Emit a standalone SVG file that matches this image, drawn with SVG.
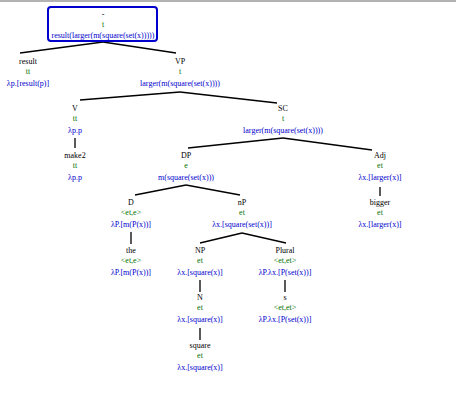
<svg xmlns="http://www.w3.org/2000/svg" width="456" height="400" viewBox="0 0 456 400">
<style>
text{font-family:"Liberation Serif","Times New Roman",serif;font-size:8px;text-anchor:middle}
.l{fill:#000}
.t{fill:#007000}
.s{fill:#0000cc}
.e{stroke:#000;stroke-width:1.3;fill:none}
</style>
<rect width="456" height="400" fill="#fff"/>
<line x1="0" y1="1" x2="456" y2="1" stroke="#999" stroke-width="1.5"/>
<g id="connectors">
<line class="e" x1="103" y1="42" x2="20" y2="53"/>
<line class="e" x1="103" y1="42" x2="176" y2="53"/>
<line class="e" x1="180" y1="92" x2="80" y2="100"/>
<line class="e" x1="180" y1="92" x2="277" y2="103"/>
<line class="e" x1="75" y1="138" x2="75" y2="148"/>
<line class="e" x1="283" y1="138" x2="188" y2="148"/>
<line class="e" x1="283" y1="138" x2="372" y2="150"/>
<line class="e" x1="380" y1="187" x2="380" y2="196"/>
<line class="e" x1="186" y1="185" x2="135" y2="195"/>
<line class="e" x1="186" y1="185" x2="240" y2="195"/>
<line class="e" x1="131" y1="232" x2="131" y2="244"/>
<line class="e" x1="242" y1="233" x2="200" y2="243"/>
<line class="e" x1="242" y1="233" x2="286" y2="243"/>
<line class="e" x1="200" y1="280" x2="200" y2="292"/>
<line class="e" x1="200" y1="328" x2="200" y2="340"/>
<line class="e" x1="285" y1="280" x2="285" y2="292"/>
</g>
<g id="root">
<rect x="48" y="7" width="109" height="34" rx="3" fill="none" stroke="#0000cc" stroke-width="2"/>
<text class="l" x="103" y="17">-</text>
<text class="t" x="103" y="27">t</text>
<text class="s" x="103" y="38">result(larger(m(square(set(x)))))</text>
</g>
<g id="result">
<text class="l" x="28" y="64">result</text>
<text class="t" x="28" y="74">tt</text>
<text class="s" x="28" y="86">λp.[result(p)]</text>
</g>
<g id="VP">
<text class="l" x="180" y="64">VP</text>
<text class="t" x="180" y="74">t</text>
<text class="s" x="180" y="86">larger(m(square(set(x))))</text>
</g>
<g id="V">
<text class="l" x="75" y="111">V</text>
<text class="t" x="75" y="121">tt</text>
<text class="s" x="75" y="133">λp.p</text>
</g>
<g id="make2">
<text class="l" x="75" y="158">make2</text>
<text class="t" x="75" y="168">tt</text>
<text class="s" x="75" y="180">λp.p</text>
</g>
<g id="SC">
<text class="l" x="283" y="111">SC</text>
<text class="t" x="283" y="121">t</text>
<text class="s" x="283" y="133">larger(m(square(set(x))))</text>
</g>
<g id="DP">
<text class="l" x="186" y="158">DP</text>
<text class="t" x="186" y="168">e</text>
<text class="s" x="186" y="180">m(square(set(x)))</text>
</g>
<g id="Adj">
<text class="l" x="380" y="158">Adj</text>
<text class="t" x="380" y="168">et</text>
<text class="s" x="380" y="180">λx.[larger(x)]</text>
</g>
<g id="bigger">
<text class="l" x="380" y="205">bigger</text>
<text class="t" x="380" y="215">et</text>
<text class="s" x="380" y="227">λx.[larger(x)]</text>
</g>
<g id="D">
<text class="l" x="131" y="205">D</text>
<text class="t" x="131" y="215">&lt;et,e&gt;</text>
<text class="s" x="131" y="227">λP.[m(P(x))]</text>
</g>
<g id="the">
<text class="l" x="131" y="253">the</text>
<text class="t" x="131" y="263">&lt;et,e&gt;</text>
<text class="s" x="131" y="275">λP.[m(P(x))]</text>
</g>
<g id="nP">
<text class="l" x="242" y="205">nP</text>
<text class="t" x="242" y="215">et</text>
<text class="s" x="242" y="227">λx.[square(set(x))]</text>
</g>
<g id="NP">
<text class="l" x="200" y="253">NP</text>
<text class="t" x="200" y="263">et</text>
<text class="s" x="200" y="275">λx.[square(x)]</text>
</g>
<g id="N">
<text class="l" x="200" y="300">N</text>
<text class="t" x="200" y="310">et</text>
<text class="s" x="200" y="322">λx.[square(x)]</text>
</g>
<g id="square">
<text class="l" x="200" y="348">square</text>
<text class="t" x="200" y="358">et</text>
<text class="s" x="200" y="370">λx.[square(x)]</text>
</g>
<g id="Plural">
<text class="l" x="285" y="253">Plural</text>
<text class="t" x="285" y="263">&lt;et,et&gt;</text>
<text class="s" x="285" y="275">λP.λx.[P(set(x))]</text>
</g>
<g id="s">
<text class="l" x="285" y="300">s</text>
<text class="t" x="285" y="310">&lt;et,et&gt;</text>
<text class="s" x="285" y="322">λP.λx.[P(set(x))]</text>
</g>
</svg>
